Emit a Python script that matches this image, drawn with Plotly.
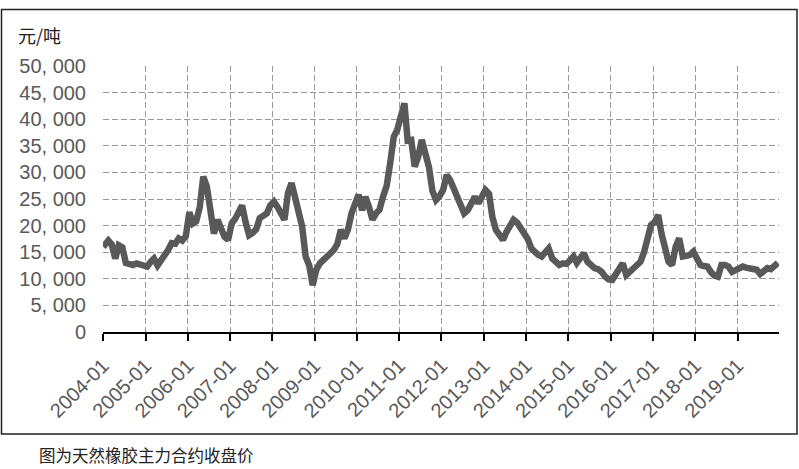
import plotly.graph_objects as go

# Monthly closing prices (yuan/ton)
years = list(range(2004, 2020))
v2004 = [16000, 17200, 16500, 13800, 16300, 15900, 13000, 12800, 12600, 12900, 12700, 12400]
v2005 = [12300, 13200, 13800, 12500, 13300, 14500, 15400, 16700, 16600, 17600, 17200, 18000]
v2006 = [22500, 20400, 20800, 23500, 29200, 27300, 23500, 18500, 21100, 19500, 17900, 17300]
v2007 = [20400, 21300, 22300, 23800, 20700, 18200, 18600, 19300, 21400, 21800, 22300, 23800]
v2008 = [24500, 23500, 22500, 21100, 26100, 28000, 25400, 22900, 19800, 14200, 12500, 8800]
v2009 = [11700, 12900, 13500, 14500, 15100, 15400, 16500, 19200, 17600, 19200, 22300, 24000]
v2010 = [25800, 22900, 25400, 23500, 21100, 22300, 23000, 25500, 27500, 31700, 36700, 38000]
v2011 = [40500, 43000, 36000, 36100, 31100, 33000, 36100, 33900, 31000, 26500, 24800, 25500]
v2012 = [26700, 29500, 28600, 27000, 25400, 24200, 22300, 22900, 24000, 25400, 24200, 25500]
v2013 = [26700, 26000, 21700, 19200, 18000, 17300, 18800, 19800, 21100, 20600, 19500, 18500]
v2014 = [17500, 15700, 15000, 14500, 14200, 14800, 15700, 13800, 13200, 12600, 12900, 12800]
v2015 = [13500, 14200, 13000, 13800, 14800, 13200, 12600, 12000, 11800, 11300, 10400, 9900]
v2016 = [9800, 10700, 11500, 12900, 10700, 11300, 12000, 12300, 13200, 15000, 18000, 20100]
v2017 = [20700, 22000, 18500, 15100, 13200, 12600, 16000, 17600, 14200, 14300, 14500, 15100]
v2018 = [13800, 12600, 12400, 12300, 11300, 10600, 10400, 12600, 12600, 12300, 11300, 11700]
v2019 = [11900, 12300, 12100, 12000, 11900, 11700, 10900, 11500, 12000, 11800, 12300, 13000]

yearly = [v2004, v2005, v2006, v2007, v2008, v2009, v2010, v2011,
          v2012, v2013, v2014, v2015, v2016, v2017, v2018, v2019]

dates = []
prices = []
for y, vals in zip(years, yearly):
    for m, v in enumerate(vals, start=1):
        day = "02" if (y == 2004 and m == 1) else "15"
        dates.append(f"{y}-{m:02d}-{day}")
        prices.append(v)

tick_dates = [f"{y}-01-01" for y in years]
tick_labels = [f"{y}-01" for y in years]
y_vals = list(range(0, 50001, 5000))
y_labels = ["0" if v == 0 else f"{v // 1000}, 000" for v in y_vals]

GRAY = "#595959"

fig = go.Figure()
fig.add_trace(go.Scatter(
    x=dates, y=prices, mode="lines",
    line=dict(color=GRAY, width=6.5),
    hoverinfo="skip", showlegend=False,
))

# plot-area geometry in pixels (for paper-coordinate conversions)
L, R, T, B = 103, 20, 66, 137
W, H = 799, 469
pw, ph = W - L - R, H - T - B


def px(xp):
    return (xp - L) / pw


def py(yp):
    return (H - B - yp) / ph


fig.update_layout(
    width=W, height=H,
    margin=dict(l=L, r=R, t=T, b=B),
    paper_bgcolor="white", plot_bgcolor="white",
    font=dict(family="Liberation Sans, Arial, sans-serif", color=GRAY),
    xaxis=dict(
        type="date",
        range=["2003-12-31", "2019-12-25"],
        tickmode="array", tickvals=tick_dates, ticktext=tick_labels,
        tickangle=-45,
        tickfont=dict(size=20, color=GRAY),
        ticks="outside", ticklen=7, tickwidth=2, tickcolor="black",
        ticklabelstandoff=5,
        showline=True, linecolor="black", linewidth=2,
        showgrid=True, gridcolor="#999999", gridwidth=1, griddash="6px,3px",
        zeroline=False,
    ),
    yaxis=dict(
        range=[0, 50000],
        tickmode="array", tickvals=y_vals, ticktext=y_labels,
        tickfont=dict(size=20, color=GRAY),
        ticks="", showline=False,
        ticklabelstandoff=16,
        showgrid=True, gridcolor="#999999", gridwidth=1, griddash="6px,3px",
        zeroline=False,
    ),
    shapes=[dict(
        type="rect", xref="paper", yref="paper",
        x0=px(1.5), x1=px(797), y0=py(434), y1=py(9.5),
        line=dict(color="#222222", width=1.5), fillcolor="rgba(0,0,0,0)",
        layer="below",
    )],
    annotations=[
        dict(text="元/吨", xref="paper", yref="paper", x=px(16), y=py(35),
             xanchor="left", yanchor="middle", showarrow=False,
             font=dict(family="Noto Sans CJK SC", size=18, color="#222222")),
        dict(text="图为天然橡胶主力合约收盘价", xref="paper", yref="paper",
             x=px(37), y=py(455), xanchor="left", yanchor="middle",
             showarrow=False,
             font=dict(family="Noto Sans CJK SC", size=16.5, color="#222222")),
    ],
)

fig.write_html(
    "out.html",
    config={"displayModeBar": False},
    post_script="document.body.style.margin='0';document.body.style.padding='0';",
)
